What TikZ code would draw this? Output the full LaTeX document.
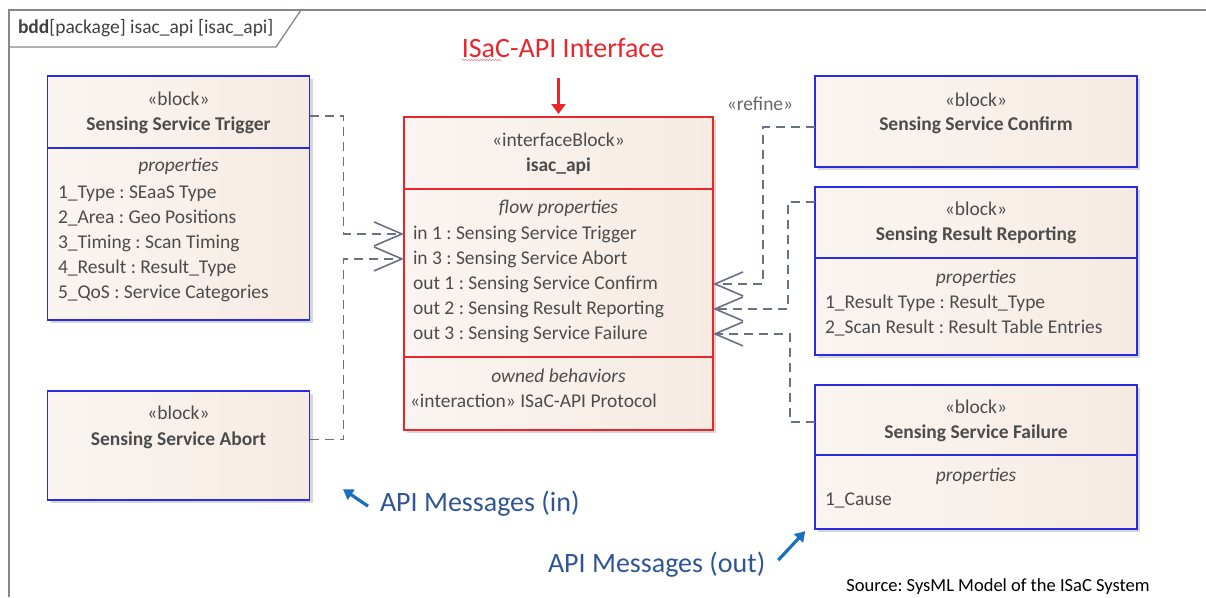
\documentclass[tikz,border=0pt]{standalone}
\usepackage{fontspec}
\setmainfont{Carlito}
\frenchspacing
\usetikzlibrary{arrows.meta,decorations.pathmorphing,shadows}
\definecolor{frm}{HTML}{8E8484}
\definecolor{bblue}{HTML}{2B2BE0}
\definecolor{rred}{HTML}{E8262B}
\definecolor{txt}{HTML}{4C4C4C}
\definecolor{depc}{HTML}{6A7184}
\definecolor{msg}{HTML}{2F5597}
\definecolor{marr}{HTML}{1A6FBF}
\definecolor{fillL}{HTML}{FAF5F1}
\definecolor{fillM}{HTML}{FEFDFC}
\definecolor{fillR}{HTML}{F6EBE3}
\begin{document}
\begin{tikzpicture}[x=1pt,y=-1pt,
  every node/.style={inner sep=0pt, outer sep=0pt, text=txt, font=\fontsize{19.5}{23}\selectfont},
  box/.style={draw=#1, line width=1.8pt, left color=fillL, middle color=fillM, right color=fillR,
     anchor=north west, drop shadow={shadow xshift=3pt, shadow yshift=-3pt, fill=black, opacity=0.16}},
  sep/.style={draw=#1, line width=1.8pt},
  ctr/.style={anchor=base},
  lft/.style={anchor=base west},
  bold/.style={font=\fontsize{19.5}{23}\selectfont\bfseries},
  ital/.style={font=\fontsize{19.5}{23}\selectfont\itshape},
  dep/.style={draw=depc, line width=1.3pt, dash pattern=on 9pt off 6pt,
     -{Straight Barb[length=28pt,width=24pt,line width=1.6pt]}},
  bigtxt/.style={font=\fontsize{28}{32}\selectfont},
  msgarrow/.style={draw=marr, line width=3.2pt, -{Triangle[length=10pt,width=12pt]}}
]
\useasboundingbox (0,0) rectangle (1206,597);
% frame
\draw[frm, line width=1.6pt] (1206,10) -- (9,10) -- (9,597);
\draw[frm, line width=1.3pt] (9,47) -- (276,47) -- (301,10);
\node[lft, text=black!75] (title) at (18,33) {\textbf{bdd}[package] isac\_api [isac\_api]};

% blocks
\node[box=bblue, minimum width=262, minimum height=244] (trig) at (47.5,76) {};
\node[box=bblue, minimum width=262, minimum height=109] (abort) at (47.5,391) {};
\node[box=rred, minimum width=309, minimum height=313] (api) at (404,117) {};
\node[box=bblue, minimum width=322, minimum height=91] (conf) at (815,76) {};
\node[box=bblue, minimum width=322, minimum height=168] (rep) at (815,187) {};
\node[box=bblue, minimum width=322, minimum height=144] (fail) at (815,385) {};

% dividers
\draw[sep=bblue] (trig.west |- 0,148) -- (trig.east |- 0,148);
\draw[sep=rred] (api.west |- 0,189) -- (api.east |- 0,189);
\draw[sep=rred] (api.west |- 0,357) -- (api.east |- 0,357);
\draw[sep=bblue] (rep.west |- 0,258) -- (rep.east |- 0,258);
\draw[sep=bblue] (fail.west |- 0,455) -- (fail.east |- 0,455);

% trigger texts
\node[ctr] (trigK) at (178.5,105) {«block»};
\node[ctr, bold] (trigN) at (178.5,130) {Sensing Service Trigger};
\node[ctr, ital] (trigP) at (178.5,171) {properties};
\node[lft] (trig1) at (58,198) {1\_Type : SEaaS Type};
\node[lft] (trig2) at (58,223) {2\_Area : Geo Positions};
\node[lft] (trig3) at (58,248) {3\_Timing : Scan Timing};
\node[lft] (trig4) at (58,273) {4\_Result : Result\_Type};
\node[lft] (trig5) at (58,298) {5\_QoS : Service Categories};

% abort texts
\node[ctr] (abK) at (178.5,419) {«block»};
\node[ctr, bold] (abN) at (178.5,445) {Sensing Service Abort};

% api texts
\node[ctr] (apiK) at (558.5,146) {«interfaceBlock»};
\node[ctr, bold] (apiN) at (558.5,171) {isac\_api};
\node[ctr, ital] (apiF) at (558.5,213) {flow properties};
\node[lft] (in1) at (413,239) {in 1 : Sensing Service Trigger};
\node[lft] (in3) at (413,264) {in 3 : Sensing Service Abort};
\node[lft] (out1) at (413,289) {out 1 : Sensing Service Confirm};
\node[lft] (out2) at (413,314) {out 2 : Sensing Result Reporting};
\node[lft] (out3) at (413,339) {out 3 : Sensing Service Failure};
\node[ctr, ital] (apiO) at (558.5,382) {owned behaviors};
\node[lft] (apiI) at (410,407) {«interaction» ISaC-API Protocol};

% confirm texts
\node[ctr] (cfK) at (976,106) {«block»};
\node[ctr, bold] (cfN) at (976,130) {Sensing Service Confirm};

% reporting texts
\node[ctr] (rpK) at (976,215) {«block»};
\node[ctr, bold] (rpN) at (976,240) {Sensing Result Reporting};
\node[ctr, ital] (rpP) at (976,283) {properties};
\node[lft] (rp1) at (825,308) {1\_Result Type : Result\_Type};
\node[lft] (rp2) at (825,333) {2\_Scan Result : Result Table Entries};

% failure texts
\node[ctr] (flK) at (976,413) {«block»};
\node[ctr, bold] (flN) at (976,438) {Sensing Service Failure};
\node[ctr, ital] (flP) at (976,481) {properties};
\node[lft] (fl1) at (825,505) {1\_Cause};

% dependencies
\draw[dep] ([yshift=-40pt]trig.north east) -- ++(34,0) |- (api.west |- in1);
\draw[dep] ([yshift=6pt]abort.east) -- ++(34,0) |- (api.west |- in3);
\draw[dep] ([yshift=-51pt]conf.north west) -- ++(-52,0) |- (api.east |- out1);
\draw[dep] ([yshift=-15pt]rep.north west) -- ++(-27,0) |- (api.east |- out2);
\draw[dep] ([yshift=-37pt]fail.north west) -- ++(-25,0) |- (api.east |- out3);
\node[ctr, text=black!60] (refine) at (760,110) {«refine»};

% interface label
\node[ctr, bigtxt, text=rred] (ifl) at (563,57) {ISaC-API Interface};
\draw[rred!60, line width=0.5pt, decorate, decoration={snake, amplitude=0.8pt, segment length=3pt}]
  ([yshift=-3pt]ifl.base west) -- ++(40,0);
\draw[rred, line width=3pt, -{Triangle[length=10pt,width=14pt]}] ([yshift=39pt]api.north) -- ([yshift=3pt]api.north);

% message labels
\node[lft, bigtxt, text=msg] (min) at (380,511) {API Messages (in)};
\draw[msgarrow] ([xshift=-12pt,yshift=-3pt]min.west) -- ++(-25,-17);
\node[lft, bigtxt, text=msg] (mout) at (548,572) {API Messages (out)};
\draw[msgarrow] ([xshift=13pt,yshift=4pt]mout.east) -- ++(27,-29);

\node[ctr, text=black, font=\fontsize{18.5}{22}\selectfont] (src) at (998,591) {Source: SysML Model of the ISaC System};
\end{tikzpicture}
\end{document}
